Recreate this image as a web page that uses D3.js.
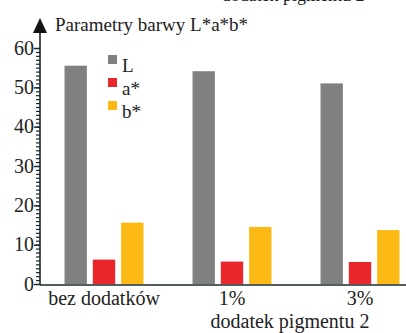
<!DOCTYPE html>
<html><head><meta charset="utf-8">
<script src="https://cdn.jsdelivr.net/npm/d3@7"></script>
<style>html,body{margin:0;padding:0;background:#fff;}svg{display:block;}text{font-family:"Liberation Serif","Times New Roman",serif;}</style>
</head><body>
<script>
const categories = ["bez dodatków", "1%", "3%"];
const seriesNames = ["L", "a*", "b*"];
const valuesL = [55.5, 54.1, 51.0];
const valuesA = [6.2, 5.7, 5.6];
const valuesB = [15.6, 14.5, 13.7];
const yTicks = [0, 10, 20, 30, 40, 50, 60];
const colors = ["#808080", "#e8262b", "#fdb913"];
const title = "Parametry barwy L*a*b*";
const xTitle = "dodatek pigmentu 2";

const W = 406, H = 333;
const svg = d3.select("body").append("svg").attr("width", W).attr("height", H);
const font = "Liberation Serif";
const axisColor = "#17262c";
const txt = (sel, size = 20) => sel.style("font-family", font).style("font-size", size + "px").attr("fill", "#222");

const x0 = d3.scaleBand().domain(categories).range([40, 424]).paddingInner(0.383).paddingOuter(0.1915);
const x1 = d3.scaleBand().domain(seriesNames).range([0, x0.bandwidth()]).paddingInner(0.21).paddingOuter(0);
const y = d3.scaleLinear().domain([0, 60]).range([284, 48]);

const series = [valuesL, valuesA, valuesB];
const rows = categories.map((c, i) => ({ c, vals: seriesNames.map((s, j) => ({ s, v: series[j][i], col: colors[j] })) }));

// top label, cropped by the picture edge as in the reference
svg.append("text").attr("x", 293).attr("y", 1).attr("text-anchor", "middle").call(txt, 18).text(xTitle);

// bars
svg.append("g").selectAll("g.grp").data(rows).join("g").attr("class", "grp")
  .attr("transform", d => `translate(${x0(d.c)},0)`)
  .selectAll("rect").data(d => d.vals).join("rect")
  .attr("x", d => x1(d.s)).attr("width", x1.bandwidth())
  .attr("y", d => y(d.v)).attr("height", d => y(0) - y(d.v))
  .attr("fill", d => d.col);

// y axis minor ticks
const yAxisMinor = d3.axisLeft(y).tickValues(d3.range(0, 61, 1)).tickSize(4).tickFormat("");
const ga = svg.append("g").attr("transform", "translate(40,0)").call(yAxisMinor);
ga.select(".domain").remove();
ga.selectAll("line").attr("stroke", axisColor).attr("stroke-width", 1.2);

const yAxis = d3.axisLeft(y).tickValues(yTicks).tickSize(6).tickPadding(0).tickFormat(d3.format("d"));
const gy = svg.append("g").attr("transform", "translate(40,0)").call(yAxis);
gy.select(".domain").remove();
gy.selectAll("line").attr("stroke", axisColor).attr("stroke-width", 1.4);
gy.selectAll("text").call(txt).attr("dy", "0.3em");

// y axis line and arrow
svg.append("line").attr("x1", 40).attr("x2", 40).attr("y1", y(0) + 1).attr("y2", 30)
  .attr("stroke", axisColor).attr("stroke-width", 1.6);
svg.append("path").attr("d", "M40,18 L47,33 L33,33 Z").attr("fill", "#111");

// x axis
const xAxis = d3.axisBottom(x0).tickSize(0).tickPadding(6);
const gx = svg.append("g").attr("transform", `translate(0,${y(0) + 1})`).call(xAxis);
gx.select(".domain").attr("d", `M40,0H${W}`).attr("stroke", axisColor).attr("stroke-width", 1.6);
gx.selectAll("text").call(txt);

// titles
svg.append("text").attr("x", 55).attr("y", 31).call(txt, 19).text(title);
svg.append("text").attr("x", 290).attr("y", 328).attr("text-anchor", "middle").call(txt).text(xTitle);

// legend
const lg = svg.append("g").attr("transform", "translate(108,55)");
const li = lg.selectAll("g").data(seriesNames).join("g").attr("transform", (d, i) => `translate(0,${i * 23})`);
li.append("rect").attr("width", 9).attr("height", 9).attr("fill", (d, i) => colors[i]);
li.append("text").attr("x", 14).attr("y", 17).call(txt, 19).text(d => d);
</script>
</body></html>
